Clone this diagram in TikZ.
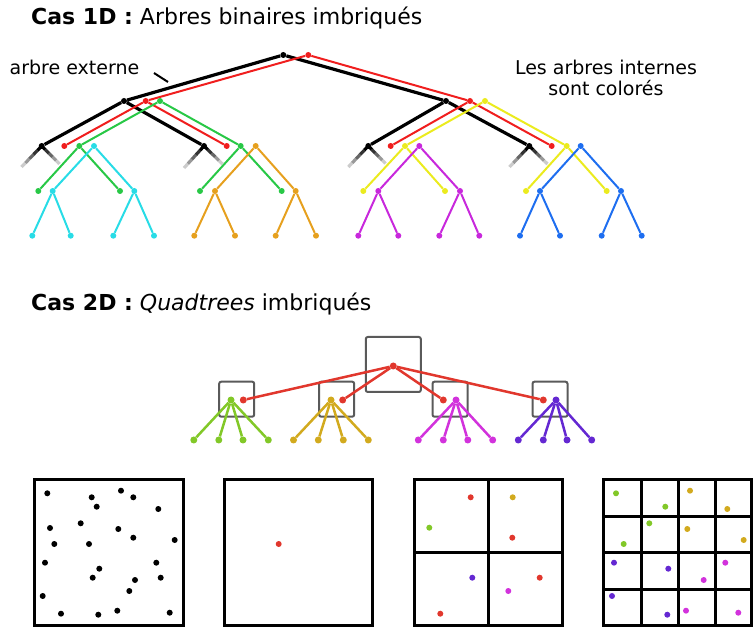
\documentclass[tikz,border=0pt]{standalone}
\usepackage{fontspec}
\setmainfont{DejaVu Sans}
\usetikzlibrary{calc}
\definecolor{cRed}{RGB}{240,30,30}
\definecolor{cGreen}{RGB}{40,200,70}
\definecolor{cCyan}{RGB}{40,220,230}
\definecolor{cOrange}{RGB}{230,160,30}
\definecolor{cYellow}{RGB}{235,235,30}
\definecolor{cMag}{RGB}{200,40,220}
\definecolor{cBlue}{RGB}{30,110,240}
\definecolor{qRed}{RGB}{225,55,45}
\definecolor{qGreen}{RGB}{130,200,40}
\definecolor{qGold}{RGB}{210,170,30}
\definecolor{qMag}{RGB}{210,50,220}
\definecolor{qPurple}{RGB}{100,40,210}
\definecolor{qBox}{RGB}{90,90,90}
\newcommand\fadestub[2]{%
  \foreach \sa/\sb/\op in {0/0.2/1,0.2/0.4/0.8,0.4/0.6/0.6,0.6/0.8/0.4,0.8/1/0.2}{%
    \draw[line width=3.2pt, draw opacity=\op] ($(#1)!\sa!(#2)$) -- ($(#1)!\sb!(#2)$);}}
\newcommand\bintree[2]{%
  \draw[#2] (#1-0) -- (#1-1) (#1-0) -- (#1-2) (#1-1) -- (#1-3) (#1-1) -- (#1-4)
            (#1-2) -- (#1-5) (#1-2) -- (#1-6);}
\begin{document}
\begin{tikzpicture}[x=1pt,y=-1pt,
  dt/.style={circle, fill=#1, draw=none, inner sep=0pt, minimum size=6pt},
  qdt/.style={circle, fill=#1, draw=none, inner sep=0pt, minimum size=7pt},
  pdt/.style={circle, fill=#1, draw=none, inner sep=0pt, minimum size=6pt},
  bkline/.style={line width=3.2pt, black},
  cline/.style={line width=2pt, #1},
  qline/.style={line width=2.5pt, #1},
  qbox/.style={draw=qBox, line width=2pt, rounded corners=2pt, inner sep=0pt, minimum size=#1},
  frame/.style={draw=black, line width=3pt},
  ttl/.style={anchor=west, inner sep=0pt, font=\fontsize{22}{26}\selectfont},
  lbl/.style={inner sep=0pt, font=\fontsize{19}{21.5}\selectfont, align=center}
]
\useasboundingbox (0,0) rectangle (753,628);

% titles
\node[ttl] (t1) at (31,18) {\textbf{Cas 1D :} Arbres binaires imbriqués};
\node[ttl] (t2) at (31,304) {\textbf{Cas 2D :} \textit{Quadtrees} imbriqués};
\node[lbl] (ext) at (74.5,67) {arbre externe};
\node[lbl] (int) at (606,78) {Les arbres internes\\sont colorés};
\coordinate (pa) at (154,73);
\coordinate (pb) at (168,82);
\draw[line width=2pt] (pa) -- (pb);

% ---------- black outer tree
\node[dt=black] (k-0) at (283.3,55) {};
\node[dt=black] (k-1) at (124,101) {};
\node[dt=black] (k-2) at (446,101) {};
\node[dt=black] (k-3) at (41.7,146) {};
\node[dt=black] (k-4) at (204,146) {};
\node[dt=black] (k-5) at (368.3,146) {};
\node[dt=black] (k-6) at (529.3,146) {};
\coordinate (s3l) at (21.5,167); \coordinate (s3r) at (59.5,164);
\coordinate (s4l) at (184,168);  \coordinate (s4r) at (222.5,164);
\coordinate (s5l) at (348.3,167);\coordinate (s5r) at (385.5,163.5);
\coordinate (s6l) at (509.5,167);\coordinate (s6r) at (547.5,164);
\fadestub{k-3}{s3l}\fadestub{k-3}{s3r}
\fadestub{k-4}{s4l}\fadestub{k-4}{s4r}
\fadestub{k-5}{s5l}\fadestub{k-5}{s5r}
\fadestub{k-6}{s6l}\fadestub{k-6}{s6r}
\bintree{k}{bkline}

% ---------- red tree
\node[dt=cRed] (r-0) at (308.3,55) {};
\node[dt=cRed] (r-1) at (145.7,101) {};
\node[dt=cRed] (r-2) at (470,101) {};
\node[dt=cRed] (r-3) at (64.3,146) {};
\node[dt=cRed] (r-4) at (226.7,146) {};
\node[dt=cRed] (r-5) at (390.7,146) {};
\node[dt=cRed] (r-6) at (551.7,146) {};
\bintree{r}{cline=cRed}

% ---------- green tree
\node[dt=cGreen] (g-0) at (160,101) {};
\node[dt=cGreen] (g-1) at (79.3,146) {};
\node[dt=cGreen] (g-2) at (240.7,146) {};
\node[dt=cGreen] (g-3) at (38.3,191) {};
\node[dt=cGreen] (g-4) at (120,191) {};
\node[dt=cGreen] (g-5) at (200,191) {};
\node[dt=cGreen] (g-6) at (281.7,191) {};
\bintree{g}{cline=cGreen}

% ---------- yellow tree
\node[dt=cYellow] (y-0) at (485,101) {};
\node[dt=cYellow] (y-1) at (405,146) {};
\node[dt=cYellow] (y-2) at (566.7,146) {};
\node[dt=cYellow] (y-3) at (363.3,191) {};
\node[dt=cYellow] (y-4) at (445,191) {};
\node[dt=cYellow] (y-5) at (526,191) {};
\node[dt=cYellow] (y-6) at (606.7,191) {};
\bintree{y}{cline=cYellow}

% ---------- cyan tree
\node[dt=cCyan] (c-0) at (94,146) {};
\node[dt=cCyan] (c-1) at (52.7,191) {};
\node[dt=cCyan] (c-2) at (134.3,191) {};
\node[dt=cCyan] (c-3) at (32.3,235.7) {};
\node[dt=cCyan] (c-4) at (70.7,235.7) {};
\node[dt=cCyan] (c-5) at (113.3,235.7) {};
\node[dt=cCyan] (c-6) at (154,235.7) {};
\bintree{c}{cline=cCyan}

% ---------- orange tree
\node[dt=cOrange] (o-0) at (255.7,146) {};
\node[dt=cOrange] (o-1) at (215,191) {};
\node[dt=cOrange] (o-2) at (295.7,191) {};
\node[dt=cOrange] (o-3) at (194.3,235.7) {};
\node[dt=cOrange] (o-4) at (235,235.7) {};
\node[dt=cOrange] (o-5) at (275.7,235.7) {};
\node[dt=cOrange] (o-6) at (316,235.7) {};
\bintree{o}{cline=cOrange}

% ---------- magenta tree
\node[dt=cMag] (m-0) at (419.3,146) {};
\node[dt=cMag] (m-1) at (378.3,191) {};
\node[dt=cMag] (m-2) at (460,191) {};
\node[dt=cMag] (m-3) at (358.3,235.7) {};
\node[dt=cMag] (m-4) at (398.3,235.7) {};
\node[dt=cMag] (m-5) at (439.3,235.7) {};
\node[dt=cMag] (m-6) at (479.3,235.7) {};
\bintree{m}{cline=cMag}

% ---------- blue tree
\node[dt=cBlue] (b-0) at (580.7,146) {};
\node[dt=cBlue] (b-1) at (540,191) {};
\node[dt=cBlue] (b-2) at (621,191) {};
\node[dt=cBlue] (b-3) at (520,235.7) {};
\node[dt=cBlue] (b-4) at (560,235.7) {};
\node[dt=cBlue] (b-5) at (601.7,235.7) {};
\node[dt=cBlue] (b-6) at (641.7,235.7) {};
\bintree{b}{cline=cBlue}

% ================= quadtrees
\node[qbox=55pt] (QB0) at (393.3,364.5) {};
\node[qbox=35pt] (QB1) at (236.7,399.2) {};
\node[qbox=35pt] (QB2) at (336.7,399.2) {};
\node[qbox=35pt] (QB3) at (450,399.2) {};
\node[qbox=35pt] (QB4) at (550,399.2) {};

\node[qdt=qRed] (qr0) at (393.3,366) {};
\node[qdt=qRed] (qr1) at (243.3,400) {};
\node[qdt=qRed] (qr2) at (342.7,400) {};
\node[qdt=qRed] (qr3) at (443.3,400) {};
\node[qdt=qRed] (qr4) at (543.3,400) {};
\foreach \i in {1,...,4} \draw[qline=qRed] (qr0) -- (qr\i);

\foreach \nm/\col/\x/\la/\lb/\lc/\ld in {
  qg/qGreen/231/193.8/218.8/243/268.3,
  qo/qGold/331/293.5/318.3/343.3/368.3,
  qm/qMag/456/418.3/443.3/467.8/492.7,
  qp/qPurple/556/518.3/543.3/567/591.7}{
  \node[qdt=\col] (\nm0) at (\x,400) {};
  \node[qdt=\col] (\nm1) at (\la,440) {};
  \node[qdt=\col] (\nm2) at (\lb,440) {};
  \node[qdt=\col] (\nm3) at (\lc,440) {};
  \node[qdt=\col] (\nm4) at (\ld,440) {};
  \foreach \j in {1,...,4} \draw[qline=\col] (\nm0) -- (\nm\j);
}

% ---------- frames
\draw[frame] (34.5,479.5) rectangle (183,625.5);
\draw[frame] (224,479.5) rectangle (372.5,625.5);
\draw[frame] (414,479.5) rectangle (562.5,625.5);
\draw[frame] (488.3,479.5) -- (488.3,625.5) (414,552.3) -- (562.5,552.3);
\draw[frame] (603.5,479.5) rectangle (751.5,625.5);
\draw[frame] (641.7,479.5) -- (641.7,625.5) (678.7,479.5) -- (678.7,625.5) (715,479.5) -- (715,625.5)
             (603.5,516) -- (751.5,516) (603.5,552.7) -- (751.5,552.7) (603.5,589.3) -- (751.5,589.3);

% points box 1
\foreach \px/\py [count=\n] in {47.3/493.3, 91.7/497.3, 121/490.7, 133.3/497.3, 96.7/506.7,
  158.3/509, 50/528, 80.7/523.3, 118.3/529, 133.3/537.7, 54.3/544, 89/544, 174.7/540,
  45/562.7, 156.3/562.7, 99.3/568.7, 92.7/577.7, 135/580, 160.7/577.7, 129.3/591,
  42.7/596, 61/613.7, 98.3/614.7, 117.3/610.7, 169.7/612.7}
  \node[pdt=black] (p\n) at (\px,\py) {};

% box 2
\node[pdt=qRed] (u1) at (278.7,544) {};

% box 3
\foreach \px/\py/\cl [count=\n] in {470.7/497.3/qRed, 512.7/497.3/qGold, 429.3/527.7/qGreen,
  512.3/537.7/qRed, 472.3/577.7/qPurple, 539.7/577.7/qRed, 508.3/591/qMag, 440.3/613.7/qRed}
  \node[pdt=\cl] (v\n) at (\px,\py) {};

% box 4
\foreach \px/\py/\cl [count=\n] in {616/493.3/qGreen, 665.3/506.7/qGreen, 690/490.7/qGold,
  727.3/509/qGold, 649.3/523.3/qGreen, 623.7/544/qGreen, 687.3/529/qGold, 743.7/540/qGold,
  614/562.7/qPurple, 668.3/568.7/qPurple, 703.7/580/qMag, 725.3/562.7/qMag,
  612/596/qPurple, 667.3/614.7/qPurple, 686/610.7/qMag, 738.3/612.7/qMag}
  \node[pdt=\cl] (w\n) at (\px,\py) {};
\end{tikzpicture}
\end{document}
